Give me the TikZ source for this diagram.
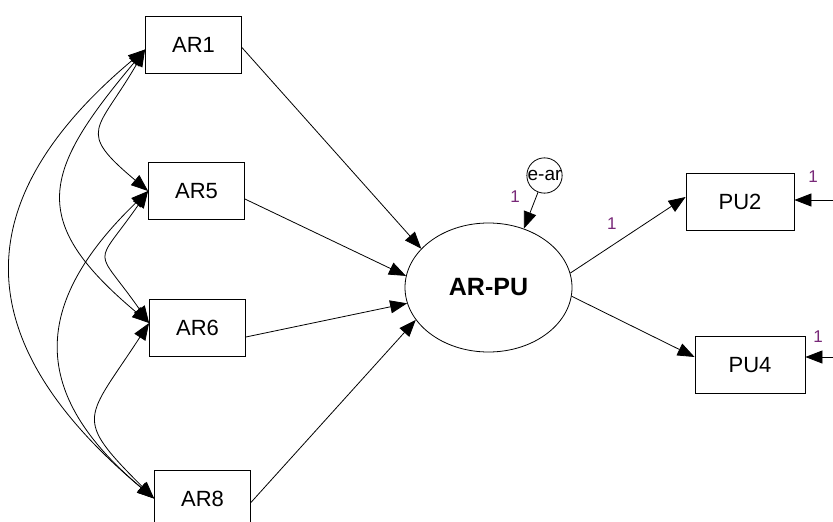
\documentclass[tikz,border=0pt]{standalone}
\usepackage{fontspec}
\setmainfont{Liberation Sans}
\usetikzlibrary{arrows.meta, shapes.geometric}
\definecolor{parcol}{RGB}{120,40,120}

\begin{document}
\begin{tikzpicture}[x=1pt, y=1pt, line width=0.8pt,
    font=\fontsize{22}{26}\selectfont,
    obs/.style={draw, rectangle, minimum width=96pt, minimum height=57pt, inner sep=0pt},
    path/.style={-{Triangle[length=17pt, width=13pt]}},
    cov/.style={{Triangle[length=17pt, width=13pt]}-{Triangle[length=17pt, width=13pt]}},
    lbl/.style={text=parcol, font=\fontsize{17}{20}\selectfont, inner sep=0pt}]

    \useasboundingbox (0,0) rectangle (833,-522);

    % Observed indicators
    \node[obs] (ar1) at (193.5,-44.5) {AR1};
    \node[obs] (ar5) at (196.5,-191) {AR5};
    \node[obs] (ar6) at (197.5,-328) {AR6};
    \node[obs] (ar8) at (202.5,-498.5) {AR8};
    \node[obs, minimum width=108pt] (pu2) at (740,-202) {PU2};
    \node[obs, minimum width=110pt] (pu4) at (750,-365) {PU4};

    % Latent variable and its error
    \node[draw, ellipse, minimum width=167pt, minimum height=129pt, inner sep=0pt,
        font=\fontsize{25}{29}\selectfont\bfseries] (arpu) at (488.5,-287.5) {AR-PU};
    \node[draw, circle, minimum size=35pt, inner sep=0pt,
        font=\fontsize{19}{22}\selectfont] (ear) at (544.5,-175.5) {e-ar};

    % Regression paths
    \draw[path] ([yshift=-3pt]ar1.east) -- (arpu.150);
    \draw[path] ([yshift=-8pt]ar5.east) -- (arpu.172);
    \draw[path] ([yshift=-9pt]ar6.east) -- (arpu.191);
    \draw[path] ([yshift=-4pt]ar8.east) -- (arpu.204);
    \draw[path] (arpu.10) -- ([yshift=5pt]pu2.west)
        node[lbl, pos=0.36, yshift=22pt] {1};
    \draw[path] (arpu.-6) -- ([yshift=8pt]pu4.west);
    \draw[path] (ear) -- (arpu.59);
    \node[lbl] (l0) at (515,-197) {1};

    % Error terms of the indicators
    \coordinate (e2) at (845,-200);
    \coordinate (e4) at (845,-357);
    \draw[path] (e2) -- (pu2.east |- e2);
    \draw[path] (e4) -- (pu4.east |- e4);
    \node[lbl] (l2) at (813,-177) {1};
    \node[lbl] (l4) at (818,-337) {1};

    % Covariances
    \draw[cov] ([yshift=-5pt]ar1.west) to[out=-120, in=140, distance=95pt] (ar5.west);
    \draw[cov] ([yshift=-5pt]ar1.west) to[out=-130, in=140, distance=160pt] ([yshift=5pt]ar6.west);
    \draw[cov] ([yshift=-5pt]ar1.west) to[out=-140, in=140, distance=240pt] (ar8.west);
    \draw[cov] (ar5.west) to[out=-125, in=125, distance=96pt] ([yshift=5pt]ar6.west);
    \draw[cov] (ar5.west) to[out=-136, in=140, distance=163pt] (ar8.west);
    \draw[cov] ([yshift=5pt]ar6.west) to[out=-123, in=135, distance=116pt] (ar8.west);
\end{tikzpicture}
\end{document}
